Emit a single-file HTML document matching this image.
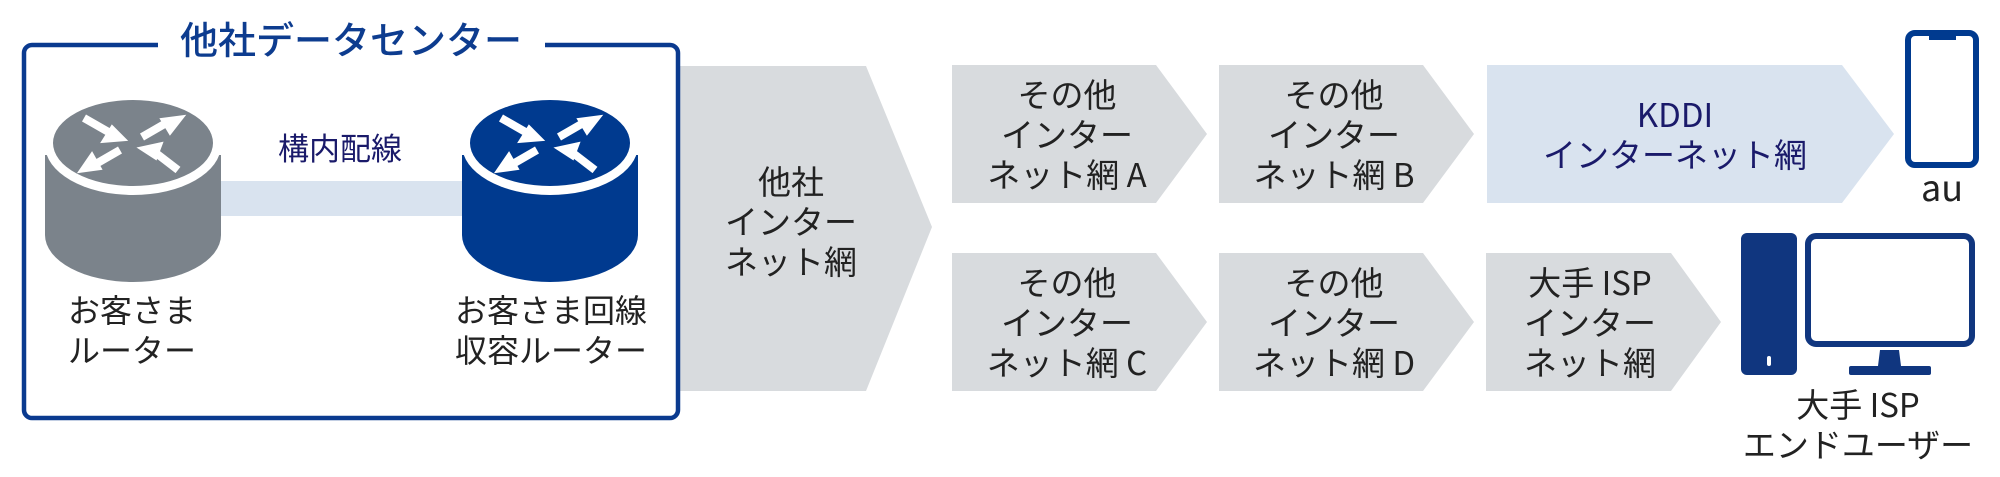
<!DOCTYPE html>
<html><head><meta charset="utf-8"><style>
html,body{margin:0;padding:0;background:#fff;}
svg{display:block;}
text{font-family:"Noto Sans CJK JP","Liberation Sans",sans-serif;}
</style></head><body>
<svg width="2000" height="477" viewBox="0 0 2000 477" xmlns="http://www.w3.org/2000/svg">
<polygon points="670,66 866,66 932,227 866,391 670,391" fill="#d8dbde"/>
<rect x="24" y="45" width="654" height="373" rx="8" fill="#fff" stroke="#0a3a8f" stroke-width="4.5"/>
<rect x="158" y="35" width="387" height="20" fill="#fff"/>
<text x="351" y="54" text-anchor="middle" font-size="38" fill="#0d3c8f" font-weight="500">他社データセンター</text>
<rect x="221" y="181" width="241" height="35" fill="#d9e3ef"/>
<text x="340" y="160" text-anchor="middle" font-size="31" fill="#1a1a6a">構内配線</text>
<g>
<path d="M45,155 L45,235 A88,47 0 0 0 221,235 L221,155 Z" fill="#7b838b"/>
<ellipse cx="133" cy="145" rx="88" ry="50" fill="#fff"/>
<ellipse cx="133" cy="143" rx="80" ry="43" fill="#7b838b"/>
<g stroke="#fff" stroke-width="8" fill="#fff">
<line x1="84" y1="118" x2="112" y2="134"/><polygon points="126,140 102,142 112,126" stroke-width="2"/>
<line x1="152" y1="150" x2="178" y2="170"/><polygon points="139,148 162,143 156,159" stroke-width="2"/>
<line x1="142" y1="137" x2="168" y2="122"/><polygon points="184,116 170,134 161,119" stroke-width="2"/>
<line x1="120" y1="150" x2="94" y2="165"/><polygon points="79,172 92,153 101,169" stroke-width="2"/>
</g>
</g>
<g>
<path d="M462,155 L462,235 A88,47 0 0 0 638,235 L638,155 Z" fill="#003a8f"/>
<ellipse cx="550" cy="145" rx="88" ry="50" fill="#fff"/>
<ellipse cx="550" cy="143" rx="80" ry="43" fill="#003a8f"/>
<g stroke="#fff" stroke-width="8" fill="#fff">
<line x1="501" y1="118" x2="529" y2="134"/><polygon points="543,140 519,142 529,126" stroke-width="2"/>
<line x1="569" y1="150" x2="595" y2="170"/><polygon points="556,148 579,143 573,159" stroke-width="2"/>
<line x1="559" y1="137" x2="585" y2="122"/><polygon points="601,116 587,134 578,119" stroke-width="2"/>
<line x1="537" y1="150" x2="511" y2="165"/><polygon points="496,172 509,153 518,169" stroke-width="2"/>
</g>
</g>
<g font-size="32" fill="#222" text-anchor="middle">
<text x="132" y="322">お客さま</text>
<text x="132" y="362">ルーター</text>
<text x="551" y="322">お客さま回線</text>
<text x="551" y="362">収容ルーター</text>
</g>
<g fill="#d8dbde">
<polygon points="952,65 1156,65 1207,134 1156,203 952,203"/>
<polygon points="1219,65 1423,65 1474,134 1423,203 1219,203"/>
<polygon points="952,253 1156,253 1207,322 1156,391 952,391"/>
<polygon points="1219,253 1423,253 1474,322 1423,391 1219,391"/>
<polygon points="1486,253 1671,253 1721,322 1671,391 1486,391"/>
</g>
<polygon points="1487,65 1842,65 1894,134 1842,203 1487,203" fill="#d9e3ef"/>
<g font-size="33" fill="#222" text-anchor="middle">
<text x="791" y="194">他社</text>
<text x="791" y="234">インター</text>
<text x="791" y="274">ネット網</text>
<text x="1067" y="107">その他</text><text x="1067" y="147">インター</text><text x="1067" y="187">ネット網 A</text>
<text x="1334" y="107">その他</text><text x="1334" y="147">インター</text><text x="1334" y="187">ネット網 B</text>
<text x="1067" y="295">その他</text><text x="1067" y="335">インター</text><text x="1067" y="375">ネット網 C</text>
<text x="1334" y="295">その他</text><text x="1334" y="335">インター</text><text x="1334" y="375">ネット網 D</text>
<text x="1590" y="295">大手 ISP</text><text x="1590" y="335">インター</text><text x="1590" y="375">ネット網</text>
</g>
<g font-size="33" fill="#1a1a6a" text-anchor="middle">
<text x="1675" y="127">KDDI</text>
<text x="1675" y="167">インターネット網</text>
</g>
<rect x="1908" y="33" width="68" height="132" rx="7" fill="none" stroke="#003a8f" stroke-width="6"/>
<rect x="1929" y="36" width="27" height="4" fill="#003a8f"/>
<text x="1942" y="201" text-anchor="middle" font-size="36" fill="#222">au</text>
<rect x="1741" y="233" width="56" height="142" rx="6" fill="#10367f"/>
<rect x="1767" y="356" width="4" height="10" rx="2" fill="#fff"/>
<rect x="1808" y="236" width="164" height="108" rx="8" fill="none" stroke="#10367f" stroke-width="6"/>
<polygon points="1880,350 1899,350 1901,366 1878,366" fill="#10367f"/>
<rect x="1849" y="366" width="82" height="9" rx="2" fill="#10367f"/>
<g font-size="33" fill="#222" text-anchor="middle">
<text x="1858" y="417">大手 ISP</text>
<text x="1858" y="457">エンドユーザー</text>
</g>
</svg>
</body></html>
